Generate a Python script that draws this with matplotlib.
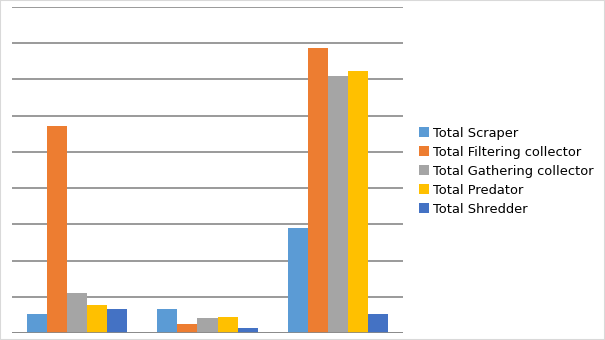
import matplotlib
matplotlib.use("Agg")
import matplotlib.pyplot as plt
from matplotlib.patches import Patch, Rectangle
import numpy as np

categories = ["Group 1", "Group 2", "Group 3"]
series_names = ["Total Scraper", "Total Filtering collector", "Total Gathering collector",
                "Total Predator", "Total Shredder"]
scraper = [0.52, 0.66, 2.90]
filtering = [5.72, 0.25, 7.87]
gathering = [1.10, 0.41, 7.10]
predator = [0.77, 0.44, 7.24]
shredder = [0.66, 0.14, 0.52]
colors = ["#5B9BD5", "#ED7D31", "#A5A5A5", "#FFC000", "#4472C4"]

series = [scraper, filtering, gathering, predator, shredder]

fig = plt.figure(figsize=(6.05, 3.4), dpi=100)
fig.patch.set_facecolor("white")
ax = fig.add_axes([12/605, 7/340, 391/605, 326/340])

x = np.arange(len(categories))
bw = 0.1535
for i, (vals, c) in enumerate(zip(series, colors)):
    ax.bar(x + (i - 2) * bw, vals, width=bw, color=c, zorder=3, label=series_names[i])

ax.set_xlim(-0.5, 2.5)
ax.set_ylim(0, 9)
ax.set_yticks(np.arange(0, 10, 1))
ax.grid(axis="y", color="#898989", linewidth=1.2, zorder=0)
ax.tick_params(left=False, bottom=False, labelleft=False, labelbottom=False)
for s in ax.spines.values():
    s.set_visible(False)
ax.axhline(0, color="#898989", linewidth=1.2, zorder=4)

handles = [Patch(facecolor=c, edgecolor="none") for c in colors]
fig.legend(handles, series_names, loc="center left", bbox_to_anchor=(414/605, 0.497),
           frameon=False, fontsize=9.4, handlelength=0.72, handleheight=0.72,
           handletextpad=0.3, labelspacing=0.46, borderaxespad=0)

fig.add_artist(Rectangle((0, 0), 1, 1, transform=fig.transFigure, fill=False,
                         edgecolor="#d9d9d9", linewidth=1.5))

fig.savefig("out.png", dpi=100)
